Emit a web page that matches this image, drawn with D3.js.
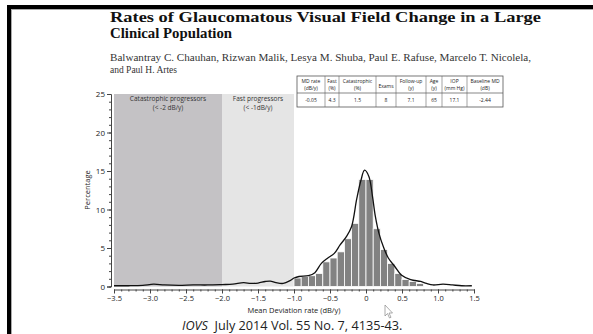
<!DOCTYPE html>
<html>
<head>
<meta charset="utf-8">
<script src="https://cdn.jsdelivr.net/npm/d3@7"></script>
<style>
  html, body { margin: 0; padding: 0; background: #fff; }
  svg { display: block; }
</style>
</head>
<body>
<svg id="chart" width="593" height="334"></svg>
<script>
// ---- data ----
const titleLines = ["Rates of Glaucomatous Visual Field Change in a Large", "Clinical Population"];
const authorLines = ["Balwantray C. Chauhan, Rizwan Malik, Lesya M. Shuba, Paul E. Rafuse, Marcelo T. Nicolela,", "and Paul H. Artes"];
const footerItalic = "IOVS";
const footerText = "  July 2014 Vol. 55 No. 7, 4135-43.";

// progression zones (dB/y)
const zoneNames = [["Catastrophic progressors", "(< -2 dB/y)"], ["Fast progressors", "(< -1dB/y)"]];
const zoneFrom = [-3.5, -2.0];
const zoneTo = [-2.0, -1.0];

// histogram: left bin edge (dB/y) and percentage of eyes
const binLeft = [-1.0, -0.9, -0.8, -0.7, -0.6, -0.5, -0.4, -0.3, -0.2, -0.1, 0.0, 0.1, 0.2, 0.3, 0.4, 0.5, 0.6, 0.7];
const binPct  = [1.1, 1.3, 1.4, 1.7, 3.2, 3.7, 4.5, 6.2, 8.2, 13.9, 13.9, 7.5, 4.8, 3.0, 1.7, 0.9, 0.65, 0.4];
const binWidth = 0.1;

// smoothed density curve
const curveX = [-3.5, -3.3, -3.1, -2.95, -2.8, -2.6, -2.4, -2.2, -2.0, -1.85, -1.7, -1.6, -1.5, -1.4, -1.33, -1.25, -1.15, -1.05, -1.0, -0.93, -0.8, -0.71, -0.62, -0.53, -0.44, -0.36, -0.27, -0.2, -0.13, -0.07, -0.02, 0.04, 0.09, 0.13, 0.18, 0.24, 0.31, 0.4, 0.49, 0.62, 0.76, 0.84, 0.93, 1.07, 1.2, 1.33, 1.47];
const curveY = [0.1, 0.1, 0.15, 0.3, 0.2, 0.15, 0.2, 0.2, 0.25, 0.3, 0.5, 0.4, 0.45, 0.65, 0.7, 0.5, 0.4, 0.8, 1.1, 1.3, 1.4, 1.8, 3.0, 3.7, 4.3, 5.4, 6.5, 7.8, 11.3, 13.8, 15.1, 14.3, 11.7, 9.1, 6.9, 5.2, 3.7, 2.6, 1.5, 0.9, 0.65, 0.4, 0.2, 0.3, 0.2, 0.1, 0.1];

// axes
const xTicks = [-3.5, -3.0, -2.5, -2.0, -1.5, -1.0, -0.5, 0, 0.5, 1.0, 1.5];
const xTickLabels = ["\u22123.5", "\u22123.0", "\u22122.5", "\u22122.0", "\u22121.5", "\u22121.0", "\u22120.5", "0", "0.5", "1.0", "1.5"];
const yTicks = [0, 5, 10, 15, 20, 25];
const yTickLabels = ["0", "5", "10", "15", "20", "25"];
const xTitle = "Mean Deviation rate (dB/y)";
const yTitle = "Percentage";

// summary table
const tableHeads = [["MD rate", "(dB/y)"], ["Fast", "(%)"], ["Catastrophic", "(%)"], ["Exams", ""], ["Follow-up", "(y)"], ["Age", "(y)"], ["IOP", "(mm Hg)"], ["Baseline MD", "(dB)"]];
const tableValues = ["-0.05", "4.3", "1.5", "8", "7.1", "65", "17.1", "-2.44"];

// ---- drawing ----
const svg = d3.select("#chart");
const sans = "'Open Sans', 'DejaVu Sans', sans-serif";
const serif = "'Liberation Serif', 'Times New Roman', serif";

// slide frame
svg.append("rect").attr("x", 0).attr("y", 0).attr("width", 593).attr("height", 334).attr("fill", "#fff");
svg.append("rect").attr("x", 11).attr("y", 9).attr("width", 582).attr("height", 1).attr("fill", "#aaa");
svg.append("rect").attr("x", 11).attr("y", 9).attr("width", 1).attr("height", 325).attr("fill", "#aaa");
svg.append("rect").attr("x", 7).attr("y", 5).attr("width", 586).attr("height", 4).attr("fill", "#000");
svg.append("rect").attr("x", 7).attr("y", 5).attr("width", 4).attr("height", 329).attr("fill", "#000");

// title and authors
svg.append("g").selectAll("text").data(titleLines).join("text")
  .attr("x", 110).attr("y", (d, i) => 21.5 + i * 16)
  .attr("font-family", serif).attr("font-weight", "bold").attr("font-size", 14.8)
  .attr("fill", "#111")
  .attr("textLength", (d, i) => i === 0 ? 431 : null)
  .attr("lengthAdjust", "spacingAndGlyphs")
  .text(d => d);

svg.append("g").selectAll("text").data(authorLines).join("text")
  .attr("x", 110).attr("y", (d, i) => 60.5 + i * 12.5)
  .attr("font-family", serif).attr("font-size", 9.5)
  .attr("fill", "#333")
  .attr("textLength", (d, i) => i === 0 ? 421 : null)
  .attr("lengthAdjust", "spacingAndGlyphs")
  .text(d => d);

// scales
const x = d3.scaleLinear().domain([-3.5, 1.5]).range([114, 474]);
const y = d3.scaleLinear().domain([0, 25]).range([286.5, 94]);

// zones
const zoneFill = ["#c4c2c5", "#e5e5e5"];
const zones = svg.append("g");
zoneFrom.forEach((from, i) => {
  zones.append("rect")
    .attr("x", x(from)).attr("y", y(25))
    .attr("width", x(zoneTo[i]) - x(from)).attr("height", y(0) - y(25))
    .attr("fill", zoneFill[i]);
  const cx = (x(from) + x(zoneTo[i])) / 2;
  zones.append("g").selectAll("text").data(zoneNames[i]).join("text")
    .attr("x", cx).attr("y", (d, j) => 101 + j * 9)
    .attr("text-anchor", "middle")
    .attr("font-family", sans).attr("font-size", 6.5).attr("fill", "#333")
    .text(d => d);
});

// histogram bars
svg.append("g").selectAll("rect").data(binLeft).join("rect")
  .attr("x", d => x(d))
  .attr("y", (d, i) => y(binPct[i]))
  .attr("width", x(binWidth) - x(0))
  .attr("height", (d, i) => y(0) - y(binPct[i]))
  .attr("fill", "#828282")
  .attr("stroke", "#fff").attr("stroke-width", 0.8);

// density curve
const line = d3.line().x(d => x(d[0])).y(d => y(d[1])).curve(d3.curveCatmullRom.alpha(0.5));
svg.append("path")
  .datum(curveX.map((v, i) => [v, curveY[i]]))
  .attr("d", line)
  .attr("fill", "none").attr("stroke", "#111").attr("stroke-width", 1.3);

// y axis
const yAxis = svg.append("g").attr("transform", "translate(111,0)");
yAxis.call(d3.axisLeft(y).tickValues(yTicks).tickFormat((d, i) => yTickLabels[i]).tickSize(4).tickPadding(2));
yAxis.append("g").call(d3.axisLeft(y).ticks(25).tickFormat("").tickSize(2))
  .select(".domain").remove();
yAxis.selectAll(".domain").attr("stroke", "#444");
yAxis.selectAll(".tick line").attr("stroke", "#444");
yAxis.selectAll("text").attr("font-family", sans).attr("font-size", 8).attr("fill", "#222");

// x axis
const xAxis = svg.append("g").attr("transform", "translate(0,289.5)");
xAxis.call(d3.axisBottom(x).tickValues(xTicks).tickFormat((d, i) => xTickLabels[i]).tickSize(4).tickPadding(2).tickSizeOuter(0));
xAxis.append("g").call(d3.axisBottom(x).ticks(50).tickFormat("").tickSize(2).tickSizeOuter(0))
  .select(".domain").remove();
xAxis.selectAll(".domain").attr("stroke", "#444");
xAxis.selectAll(".tick line").attr("stroke", "#444");
xAxis.selectAll("text").attr("font-family", sans).attr("font-size", 7.5).attr("fill", "#222");

// axis titles
svg.append("text").attr("x", 294).attr("y", 313)
  .attr("text-anchor", "middle").attr("font-family", sans).attr("font-size", 7.5).attr("fill", "#222")
  .text(xTitle);
svg.append("text").attr("transform", "translate(90,190) rotate(-90)")
  .attr("text-anchor", "middle").attr("font-family", sans).attr("font-size", 7.5).attr("fill", "#222")
  .text(yTitle);

// summary table
const colEdges = [297, 325, 339, 376, 396, 426, 442, 467, 503];
const rowEdges = [76, 93, 107];
const table = svg.append("g");
table.append("rect").attr("x", colEdges[0]).attr("y", rowEdges[0])
  .attr("width", colEdges[8] - colEdges[0]).attr("height", rowEdges[2] - rowEdges[0])
  .attr("fill", "#fff").attr("stroke", "#555").attr("stroke-width", 0.8);
colEdges.slice(1, -1).forEach(cx => table.append("line")
  .attr("x1", cx).attr("x2", cx).attr("y1", rowEdges[0]).attr("y2", rowEdges[2])
  .attr("stroke", "#666").attr("stroke-width", 0.6));
table.append("line").attr("x1", colEdges[0]).attr("x2", colEdges[8])
  .attr("y1", rowEdges[1]).attr("y2", rowEdges[1]).attr("stroke", "#555").attr("stroke-width", 0.7);
tableHeads.forEach((h, i) => {
  const cx = (colEdges[i] + colEdges[i + 1]) / 2;
  const lines = h[1] ? h : [h[0]];
  table.append("g").selectAll("text").data(lines).join("text")
    .attr("x", cx)
    .attr("y", (d, j) => lines.length === 2 ? 83 + j * 7 : 88)
    .attr("text-anchor", "middle").attr("font-family", sans).attr("font-size", 5).attr("fill", "#222")
    .text(d => d);
  table.append("text").attr("x", cx).attr("y", 102)
    .attr("text-anchor", "middle").attr("font-family", sans).attr("font-size", 5).attr("fill", "#222")
    .text(tableValues[i]);
});

// footer citation
const foot = svg.append("text").attr("x", 182).attr("y", 330)
  .attr("font-family", sans).attr("font-size", 12.7).attr("fill", "#222");
foot.append("tspan").attr("font-style", "italic").text(footerItalic);
foot.append("tspan").attr("xml:space", "preserve").text(footerText);

// mouse pointer
svg.append("path")
  .attr("d", "M385,305 L385,316 L387.5,313.5 L389.5,318 L391,317.3 L389,313 L392.5,313 Z")
  .attr("fill", "#fff").attr("stroke", "#888").attr("stroke-width", 0.7);
</script>
</body>
</html>
